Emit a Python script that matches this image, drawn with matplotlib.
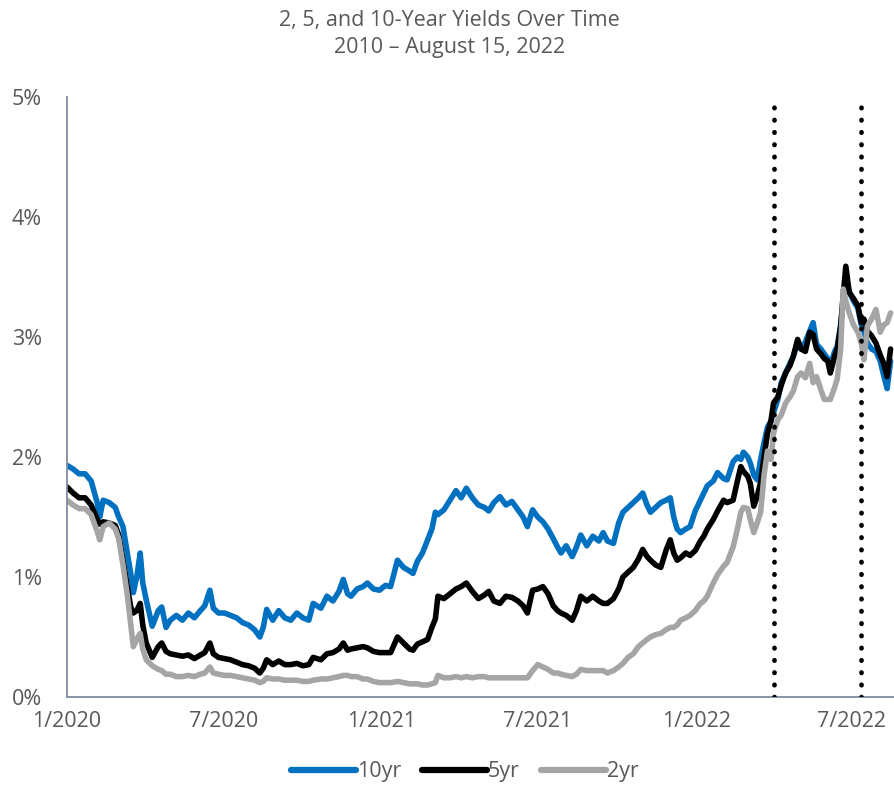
import pandas as pd
import matplotlib
matplotlib.use("Agg")
import matplotlib.pyplot as plt

# Treasury yields (%) sampled roughly weekly, Jan 2020 - Aug 15 2022
dates = [
    "2020-01-01", "2020-01-08", "2020-01-15", "2020-01-22", "2020-01-29", "2020-02-05",
    "2020-02-08", "2020-02-12", "2020-02-19", "2020-02-26", "2020-03-01", "2020-03-06",
    "2020-03-11", "2020-03-15", "2020-03-18", "2020-03-22", "2020-03-26", "2020-03-29",
    "2020-04-02", "2020-04-09", "2020-04-16", "2020-04-20", "2020-04-25", "2020-04-30",
    "2020-05-07", "2020-05-14", "2020-05-21", "2020-05-28", "2020-06-04", "2020-06-09",
    "2020-06-15", "2020-06-19", "2020-06-25", "2020-07-02", "2020-07-09", "2020-07-16",
    "2020-07-23", "2020-07-30", "2020-08-06", "2020-08-12", "2020-08-16", "2020-08-20",
    "2020-08-27", "2020-09-03", "2020-09-10", "2020-09-17", "2020-09-24", "2020-10-01",
    "2020-10-08", "2020-10-13", "2020-10-22", "2020-10-29", "2020-11-05", "2020-11-12",
    "2020-11-17", "2020-11-22", "2020-11-26", "2020-12-03", "2020-12-10", "2020-12-15",
    "2020-12-22", "2020-12-29",
    "2021-01-05", "2021-01-11", "2021-01-19", "2021-01-26", "2021-02-02", "2021-02-06",
    "2021-02-11", "2021-02-17", "2021-02-23", "2021-02-28", "2021-03-04", "2021-03-07",
    "2021-03-14", "2021-03-21", "2021-03-28", "2021-04-03", "2021-04-09", "2021-04-16",
    "2021-04-23", "2021-04-30", "2021-05-05", "2021-05-11", "2021-05-18", "2021-05-25",
    "2021-06-01", "2021-06-08", "2021-06-14", "2021-06-19", "2021-06-25", "2021-07-01",
    "2021-07-07", "2021-07-13", "2021-07-19", "2021-07-24", "2021-07-28", "2021-08-03",
    "2021-08-10", "2021-08-15", "2021-08-20", "2021-08-27", "2021-09-03", "2021-09-10",
    "2021-09-15", "2021-09-20", "2021-09-27", "2021-10-03", "2021-10-08", "2021-10-14",
    "2021-10-20", "2021-10-26", "2021-10-31", "2021-11-05", "2021-11-09", "2021-11-15",
    "2021-11-21", "2021-11-27", "2021-12-02", "2021-12-06", "2021-12-10", "2021-12-14",
    "2021-12-20", "2021-12-25", "2021-12-31",
    "2022-01-06", "2022-01-10", "2022-01-14", "2022-01-21", "2022-01-26", "2022-02-02",
    "2022-02-06", "2022-02-13", "2022-02-18", "2022-02-22", "2022-02-25", "2022-03-02",
    "2022-03-05", "2022-03-09", "2022-03-13", "2022-03-17", "2022-03-21", "2022-03-25",
    "2022-03-29", "2022-04-01", "2022-04-06", "2022-04-10", "2022-04-15", "2022-04-20",
    "2022-04-24", "2022-04-29", "2022-05-03", "2022-05-08", "2022-05-13", "2022-05-17",
    "2022-05-21", "2022-05-26", "2022-05-30", "2022-06-03", "2022-06-06", "2022-06-11",
    "2022-06-14", "2022-06-18", "2022-06-21", "2022-06-24", "2022-06-28", "2022-07-03",
    "2022-07-08", "2022-07-12", "2022-07-15", "2022-07-19", "2022-07-24", "2022-07-29",
    "2022-08-03", "2022-08-07", "2022-08-11", "2022-08-15",
]

y10 = [
    1.93, 1.90, 1.86, 1.86, 1.80, 1.62, 1.50, 1.64, 1.62, 1.58, 1.50, 1.42,
    1.20, 1.03, 0.87, 1.00, 1.20, 0.95, 0.81, 0.59, 0.72, 0.75, 0.58, 0.64,
    0.68, 0.64, 0.70, 0.66, 0.72, 0.76, 0.89, 0.74, 0.70, 0.70, 0.68, 0.66,
    0.62, 0.60, 0.56, 0.50, 0.58, 0.73, 0.64, 0.72, 0.66, 0.64, 0.70, 0.66,
    0.64, 0.78, 0.74, 0.84, 0.80, 0.88, 0.98, 0.86, 0.84, 0.90, 0.92, 0.95,
    0.90, 0.89,
    0.93, 0.92, 1.14, 1.08, 1.05, 1.03, 1.13, 1.20, 1.31, 1.40, 1.54, 1.52,
    1.56, 1.64, 1.72, 1.66, 1.74, 1.66, 1.60, 1.58, 1.55, 1.62, 1.67, 1.60,
    1.63, 1.56, 1.50, 1.42, 1.56, 1.50, 1.46, 1.40, 1.32, 1.25, 1.20, 1.26,
    1.17, 1.25, 1.35, 1.26, 1.34, 1.30, 1.37, 1.30, 1.28, 1.45, 1.54, 1.58,
    1.62, 1.66, 1.70, 1.60, 1.54, 1.58, 1.62, 1.64, 1.66, 1.50, 1.40, 1.37,
    1.40, 1.42, 1.55,
    1.64, 1.70, 1.76, 1.80, 1.87, 1.82, 1.81, 1.96, 2.00, 1.98, 2.04, 2.00,
    1.95, 1.85, 1.81, 1.98, 2.12, 2.25, 2.30, 2.37, 2.48, 2.62, 2.70, 2.78,
    2.84, 2.95, 2.90, 2.96, 3.05, 3.12, 2.94, 2.90, 2.86, 2.82, 2.76, 2.88,
    2.92, 3.10, 3.30, 3.50, 3.38, 3.30, 3.24, 3.10, 3.05, 2.95, 2.90, 2.88,
    2.80, 2.68, 2.57, 2.80,
]

y5 = [
    1.75, 1.70, 1.66, 1.66, 1.60, 1.48, 1.44, 1.46, 1.45, 1.43, 1.35, 1.14,
    0.92, 0.75, 0.70, 0.72, 0.78, 0.60, 0.45, 0.33, 0.42, 0.45, 0.38, 0.36,
    0.35, 0.34, 0.35, 0.32, 0.35, 0.37, 0.45, 0.36, 0.33, 0.32, 0.31, 0.29,
    0.27, 0.26, 0.24, 0.20, 0.24, 0.31, 0.27, 0.30, 0.27, 0.27, 0.28, 0.26,
    0.27, 0.33, 0.31, 0.36, 0.37, 0.40, 0.45, 0.39, 0.40, 0.41, 0.42, 0.41,
    0.38, 0.37,
    0.37, 0.37, 0.50, 0.45, 0.40, 0.39, 0.44, 0.46, 0.48, 0.58, 0.65, 0.84,
    0.82, 0.86, 0.90, 0.92, 0.95, 0.88, 0.82, 0.85, 0.88, 0.80, 0.78, 0.84,
    0.83, 0.80, 0.76, 0.70, 0.89, 0.90, 0.92, 0.86, 0.76, 0.72, 0.70, 0.68,
    0.64, 0.72, 0.84, 0.80, 0.84, 0.80, 0.78, 0.78, 0.82, 0.90, 1.00, 1.04,
    1.08, 1.15, 1.23, 1.17, 1.14, 1.10, 1.08, 1.22, 1.31, 1.20, 1.14, 1.16,
    1.20, 1.18, 1.22,
    1.30, 1.34, 1.40, 1.48, 1.55, 1.64, 1.62, 1.64, 1.80, 1.92, 1.88, 1.84,
    1.78, 1.59, 1.67, 1.79, 2.00, 2.20, 2.30, 2.45, 2.50, 2.60, 2.70, 2.76,
    2.84, 2.98, 2.90, 2.88, 3.04, 3.02, 2.90, 2.86, 2.82, 2.80, 2.70, 2.84,
    2.90, 3.09, 3.35, 3.59, 3.37, 3.32, 3.26, 3.12, 3.15, 3.05, 3.01, 2.95,
    2.85, 2.78, 2.67, 2.90,
]

y2 = [
    1.64, 1.60, 1.57, 1.57, 1.52, 1.38, 1.31, 1.42, 1.45, 1.40, 1.32, 1.10,
    0.85, 0.60, 0.42, 0.48, 0.53, 0.40, 0.31, 0.26, 0.23, 0.22, 0.19, 0.19,
    0.17, 0.17, 0.18, 0.17, 0.19, 0.20, 0.25, 0.20, 0.19, 0.18, 0.18, 0.17,
    0.16, 0.15, 0.14, 0.12, 0.13, 0.16, 0.15, 0.15, 0.14, 0.14, 0.14, 0.13,
    0.13, 0.14, 0.15, 0.15, 0.16, 0.17, 0.18, 0.18, 0.17, 0.17, 0.15, 0.15,
    0.13, 0.12,
    0.12, 0.12, 0.13, 0.12, 0.11, 0.11, 0.11, 0.10, 0.10, 0.11, 0.12, 0.18,
    0.16, 0.16, 0.17, 0.16, 0.17, 0.16, 0.17, 0.17, 0.16, 0.16, 0.16, 0.16,
    0.16, 0.16, 0.16, 0.16, 0.22, 0.27, 0.25, 0.23, 0.20, 0.20, 0.19, 0.18,
    0.17, 0.19, 0.23, 0.22, 0.22, 0.22, 0.22, 0.20, 0.22, 0.25, 0.28, 0.33,
    0.36, 0.42, 0.45, 0.48, 0.50, 0.52, 0.53, 0.56, 0.58, 0.58, 0.60, 0.64,
    0.66, 0.68, 0.72,
    0.78, 0.80, 0.84, 0.95, 1.02, 1.09, 1.12, 1.25, 1.40, 1.54, 1.58, 1.57,
    1.48, 1.37, 1.45, 1.54, 1.85, 2.05, 1.98, 2.20, 2.31, 2.35, 2.45, 2.50,
    2.55, 2.67, 2.70, 2.66, 2.78, 2.62, 2.67, 2.56, 2.48, 2.48, 2.48, 2.58,
    2.65, 2.90, 3.40, 3.30, 3.20, 3.10, 3.04, 2.95, 2.81, 3.09, 3.15, 3.23,
    3.04, 3.10, 3.12, 3.20,
]

labels = ["10yr", "5yr", "2yr"]
colors = ["#0070C0", "#000000", "#A5A5A5"]
marker_dates = ["2022-04-01", "2022-07-12"]
tick_dates = ["2020-01-01", "2020-07-01", "2021-01-01", "2021-07-01", "2022-01-01", "2022-07-01"]
tick_labels = ["1/2020", "7/2020", "1/2021", "7/2021", "1/2022", "7/2022"]

TEXT = "#595959"
AXIS = "#7F8CA0"

plt.rcParams["font.family"] = ["Open Sans", "DejaVu Sans"]

x = pd.to_datetime(dates)

fig = plt.figure(figsize=(8.94, 7.85), dpi=100)
ax = fig.add_axes([0.075, 0.1121, 0.925, 0.7643])

for series, label, color in zip([y10, y5, y2], labels, colors):
    ax.plot(x, series, color=color, lw=4, label=label,
            solid_joinstyle="round", solid_capstyle="round")

# dotted vertical markers
for d in pd.to_datetime(marker_dates):
    ax.axvline(d, color="black", lw=3.4, linestyle=(0, (0.1, 2.5)),
               dash_capstyle="round", zorder=5)

ax.set_xlim(pd.Timestamp("2020-01-01"), pd.Timestamp("2022-08-19"))
ax.set_ylim(0, 5)
ax.set_yticks([0, 1, 2, 3, 4, 5])
ax.set_yticklabels([f"{v}%" for v in range(6)])
ax.set_xticks(pd.to_datetime(tick_dates))
ax.set_xticklabels(tick_labels)

ax.tick_params(axis="both", length=0, labelsize=15.5, labelcolor=TEXT)
ax.tick_params(axis="y", pad=18)
ax.tick_params(axis="x", pad=10)

for side in ["top", "right"]:
    ax.spines[side].set_visible(False)
for side in ["left", "bottom"]:
    ax.spines[side].set_color(AXIS)
    ax.spines[side].set_linewidth(1.3)

fig.text(0.503, 0.957, "2, 5, and 10-Year Yields Over Time\n2010 \u2013 August 15, 2022",
         ha="center", va="center", fontsize=15.5, color=TEXT, linespacing=1.35)

leg = fig.legend(loc="center", bbox_to_anchor=(0.52, 0.017), ncol=3, frameon=False,
                 fontsize=15.5, handlelength=3.0, handletextpad=0.05, columnspacing=1.0)
for line in leg.get_lines():
    line.set_linewidth(4.5)
    line.set_solid_capstyle("round")
for t in leg.get_texts():
    t.set_color(TEXT)

fig.savefig("out.png", dpi=100)
